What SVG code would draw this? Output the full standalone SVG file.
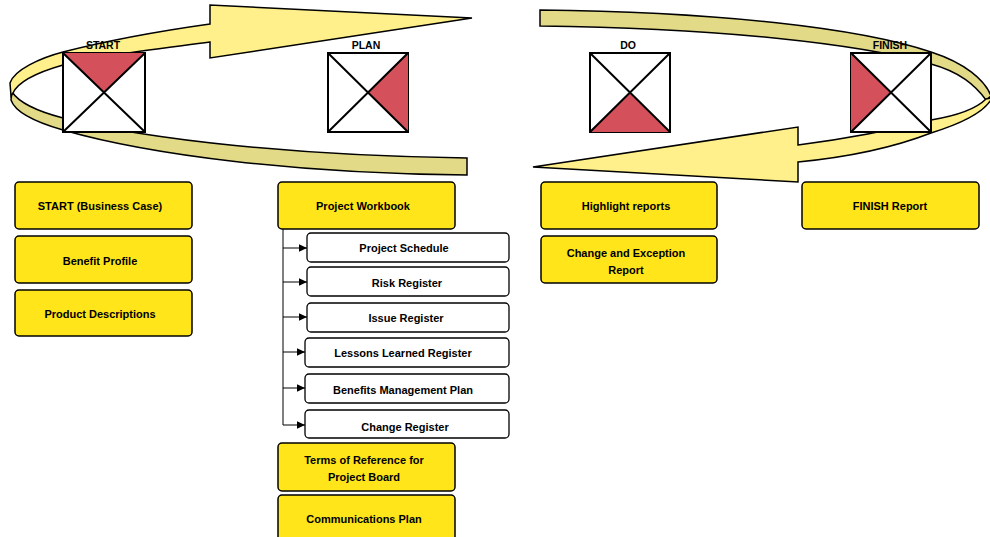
<svg xmlns="http://www.w3.org/2000/svg" width="990" height="537" viewBox="0 0 990 537">
<style>
.light{fill:#FFF08C;stroke:#000;stroke-width:1.5;stroke-linejoin:miter}
.dark{fill:#E3DA88;stroke:#000;stroke-width:1.5}
.sq{fill:#fff;stroke:#000;stroke-width:2}
.red{fill:#D4515C;stroke:none}
.diag{stroke:#000;stroke-width:2;fill:none}
.ybox{fill:#FFE519;stroke:#000;stroke-width:1.5}
.wbox{fill:#fff;stroke:#000;stroke-width:1.3}
.lbl{font-family:"Liberation Sans",Arial,sans-serif;font-weight:bold;font-size:10.5px;fill:#000;text-anchor:middle}
.cap{font-family:"Liberation Sans",Arial,sans-serif;font-weight:bold;font-size:11px;fill:#000;text-anchor:middle}
.conn{stroke:#000;stroke-width:1;fill:none}
</style>
<defs>
<marker id="ah" markerWidth="9" markerHeight="9" refX="8" refY="4.5" orient="auto" markerUnits="userSpaceOnUse">
<path d="M0,0.8 L8,4.5 L0,8.2 Z" fill="#000"/>
</marker>
</defs>

<g id="cycle">
<path class="dark" d="M12,92 C20,104 40,112 63,118 C150,140 300,156 467,158 L467,175 C300,174 150,155 63,130 C35,122 15,112 11,100 Z"/>
<path class="light" d="M11,96 L10,83 C14,70 40,58 63,52 C110,40 160,31 210,24 L210,5 L472,18 L210,58 L210,42 C150,50 90,57 63,65 C35,73 18,82 13,93 Z"/>
<path class="dark" d="M540,10 C720,12 860,28 931,52 C965,63 985,80 991,96 L986,100 C975,85 960,72 931,64 C860,44 720,28 540,26 Z"/>
<path class="light" d="M986,99 C975,110 955,116 931,120 C900,128 860,137 798,145 L798,127 L533,167 L798,182 L798,162 C860,156 900,145 931,133 C960,124 985,112 992,98 Z"/>
</g>

<g id="start-phase">
<rect class="sq" x="63" y="53" width="82" height="79"/>
<path class="red" d="M63,53 L145,53 L104,92.5 Z"/>
<path class="diag" d="M63,53 L145,132 M145,53 L63,132"/>
<text class="lbl" x="103" y="49">START</text>
</g>
<g id="plan-phase">
<rect class="sq" x="328" y="53" width="80" height="79"/>
<path class="red" d="M408,53 L408,132 L368,92.5 Z"/>
<path class="diag" d="M328,53 L408,132 M408,53 L328,132"/>
<text class="lbl" x="366" y="49">PLAN</text>
</g>
<g id="do-phase">
<rect class="sq" x="590" y="53" width="80" height="79"/>
<path class="red" d="M590,132 L670,132 L630,92.5 Z"/>
<path class="diag" d="M590,53 L670,132 M670,53 L590,132"/>
<text class="lbl" x="628" y="49">DO</text>
</g>
<g id="finish-phase">
<rect class="sq" x="851" y="53" width="80" height="79"/>
<path class="red" d="M851,53 L851,132 L891,92.5 Z"/>
<path class="diag" d="M851,53 L931,132 M931,53 L851,132"/>
<text class="lbl" x="890" y="49">FINISH</text>
</g>

<g id="connectors">
<path class="conn" d="M283,229 L283,425"/>
<path class="conn" d="M283,248 L307,248" marker-end="url(#ah)"/>
<path class="conn" d="M283,282 L307,282" marker-end="url(#ah)"/>
<path class="conn" d="M283,317 L307,317" marker-end="url(#ah)"/>
<path class="conn" d="M283,352 L305,352" marker-end="url(#ah)"/>
<path class="conn" d="M283,388 L305,388" marker-end="url(#ah)"/>
<path class="conn" d="M283,425 L305,425" marker-end="url(#ah)"/>
</g>

<g id="start-business-case"><rect class="ybox" x="15" y="182" width="177" height="47" rx="4"/><text class="cap" x="100" y="210">START (Business Case)</text></g>
<g id="benefit-profile"><rect class="ybox" x="15" y="236" width="177" height="47" rx="4"/><text class="cap" x="100" y="264.5">Benefit Profile</text></g>
<g id="product-descriptions"><rect class="ybox" x="15" y="290" width="177" height="46" rx="4"/><text class="cap" x="100" y="318">Product Descriptions</text></g>

<g id="project-workbook"><rect class="ybox" x="278" y="182" width="177" height="47" rx="4"/><text class="cap" x="363" y="210">Project Workbook</text></g>
<g id="project-schedule"><rect class="wbox" x="307" y="233" width="202" height="29" rx="4"/><text class="cap" x="404" y="252">Project Schedule</text></g>
<g id="risk-register"><rect class="wbox" x="307" y="267" width="202" height="29" rx="4"/><text class="cap" x="407" y="287">Risk Register</text></g>
<g id="issue-register"><rect class="wbox" x="307" y="303" width="202" height="29" rx="4"/><text class="cap" x="406" y="322">Issue Register</text></g>
<g id="lessons-learned-register"><rect class="wbox" x="305" y="338" width="204" height="29" rx="4"/><text class="cap" x="403" y="357">Lessons Learned Register</text></g>
<g id="benefits-management-plan"><rect class="wbox" x="305" y="374" width="204" height="29" rx="4"/><text class="cap" x="403" y="393.5">Benefits Management Plan</text></g>
<g id="change-register"><rect class="wbox" x="305" y="410" width="204" height="28" rx="4"/><text class="cap" x="405" y="430.5">Change Register</text></g>
<g id="terms-of-reference"><rect class="ybox" x="278" y="443" width="177" height="48" rx="4"/><text class="cap" x="364" y="464">Terms of Reference for</text><text class="cap" x="364" y="481">Project Board</text></g>
<g id="communications-plan"><rect class="ybox" x="278" y="495" width="177" height="50" rx="4"/><text class="cap" x="364" y="522.5">Communications Plan</text></g>

<g id="highlight-reports"><rect class="ybox" x="541" y="182" width="176" height="47" rx="4"/><text class="cap" x="626" y="210">Highlight reports</text></g>
<g id="change-exception-report"><rect class="ybox" x="541" y="236" width="176" height="47" rx="4"/><text class="cap" x="626" y="257">Change and Exception</text><text class="cap" x="626" y="274">Report</text></g>
<g id="finish-report"><rect class="ybox" x="802" y="182" width="177" height="47" rx="4"/><text class="cap" x="890" y="210">FINISH Report</text></g>
</svg>
